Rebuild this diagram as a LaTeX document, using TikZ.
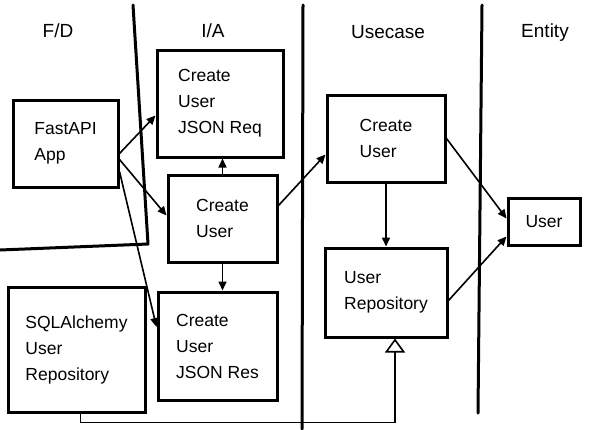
\documentclass[tikz,border=0pt]{standalone}
\usepackage{fontspec}
\setmainfont{Liberation Sans}
\usetikzlibrary{arrows.meta,calc}
\begin{document}
\begin{tikzpicture}[x=1pt,y=-1pt,
  box/.style={draw, line width=3pt, align=left, inner sep=0pt,
    font=\fontsize{17.5}{26}\selectfont},
  conn/.style={line width=1.6pt, -{Triangle[length=9pt,width=8pt]}},
  impl/.style={line width=1.6pt, -{Triangle[open,fill=white,length=14pt,width=20pt,line width=1.6pt]}},
  lane/.style={line width=3pt, line cap=round, line join=round},
  lanelabel/.style={font=\fontsize{19}{22}\selectfont, inner sep=0pt}]
\useasboundingbox (0,0) rectangle (607,429);
% lanes
\draw[lane] (133,5) -- (148,244) -- (0,250);
\draw[lane] (303,5) -- (302,429);
\draw[lane] (482,5) -- (478,413);
% lane labels
\node[lanelabel] (lfd) at (58,31) {F/D};
\node[lanelabel] (lia) at (213,31) {I/A};
\node[lanelabel] (luc) at (388,32) {Usecase};
\node[lanelabel] (len) at (545,33) {Entity};
% boxes
\node[box, minimum width=105pt, minimum height=87pt] (fastapi) at (65.5,143.5) {FastAPI\\App};
\node[box, minimum width=126pt, minimum height=107pt] (req) at (220,103.5) {Create\\User\\JSON Req};
\node[box, minimum width=109pt, minimum height=87pt] (iacu) at (222.5,218.5) {Create\\User};
\node[box, minimum width=119pt, minimum height=108pt] (res) at (217.5,346) {Create\\User\\JSON Res};
\node[box, minimum width=137pt, minimum height=125pt] (sql) at (76.5,349.5) {SQLAlchemy\\User\\Repository};
\node[box, minimum width=118pt, minimum height=87pt] (uccu) at (386,138.5) {Create\\User};
\node[box, minimum width=122pt, minimum height=89pt] (repo) at (386,292.5) {User\\Repository};
\node[box, minimum width=72pt, minimum height=47pt] (user) at (544,221.5) {User};
% connectors
\draw[conn] ([yshift=-10pt]fastapi.east) -- ([yshift=-12pt]req.west);
\draw[conn] ([yshift=-16pt]fastapi.east) -- ([yshift=3pt]iacu.west);
\draw[conn] ([yshift=-28pt]fastapi.east) -- ([yshift=19pt]res.west);
\draw[conn] (iacu.north) -- (iacu.north |- req.south);
\draw[conn] (iacu.south) -- (iacu.south |- res.north);
\draw[conn] ([yshift=13pt]iacu.east) -- ([yshift=-16pt]uccu.west);
\draw[conn] (uccu.south) -- (repo.north);
\draw[conn] (uccu.east) -- ([yshift=3pt]user.west);
\draw[conn] ([yshift=-8pt]repo.east) -- ([yshift=-15pt]user.west);
\draw[impl] ([xshift=4pt]sql.south) -- ++(0,9) -| ([xshift=9pt]repo.south);
\end{tikzpicture}
\end{document}
